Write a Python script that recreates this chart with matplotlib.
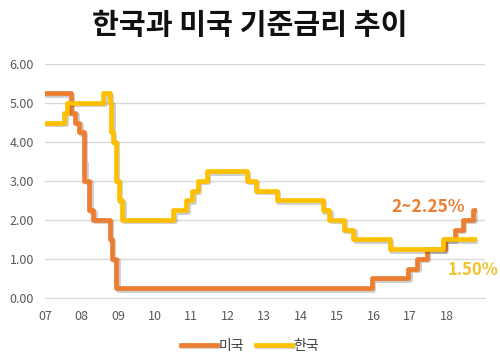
"""
plot.py

Korea vs US policy rate, 2007-2018.
"""

import pandas as pd
import matplotlib.pyplot as plt
import matplotlib.dates as mdates
import matplotlib.patheffects as pe

# US federal funds target (upper bound), change dates
us_dates = [
    "2007-01-01", "2007-09-18", "2007-10-31", "2007-12-11", "2008-01-22",
    "2008-01-30", "2008-03-18", "2008-04-30", "2008-10-08", "2008-10-29",
    "2008-12-16", "2015-12-16", "2016-12-14", "2017-03-15", "2017-06-14",
    "2017-12-13", "2018-03-21", "2018-06-13", "2018-09-26", "2018-10-01",
]
us_rates = [
    5.25, 4.75, 4.50, 4.25, 3.50,
    3.00, 2.25, 2.00, 1.50, 1.00,
    0.25, 0.50, 0.75, 1.00, 1.25,
    1.50, 1.75, 2.00, 2.25, 2.25,
]

# Bank of Korea base rate, change dates
kr_dates = [
    "2007-01-01", "2007-07-12", "2007-08-09", "2008-08-07", "2008-10-09",
    "2008-10-27", "2008-11-07", "2008-12-11", "2009-01-09", "2009-02-12",
    "2010-07-09", "2010-11-16", "2011-01-13", "2011-03-10", "2011-06-10",
    "2012-07-12", "2012-10-11", "2013-05-09", "2014-08-14", "2014-10-15",
    "2015-03-12", "2015-06-11", "2016-06-09", "2017-11-30", "2018-10-01",
]
kr_rates = [
    4.50, 4.75, 5.00, 5.25, 5.00,
    4.25, 4.00, 3.00, 2.50, 2.00,
    2.25, 2.50, 2.75, 3.00, 3.25,
    3.00, 2.75, 2.50, 2.25, 2.00,
    1.75, 1.50, 1.25, 1.50, 1.50,
]

TITLE = "한국과 미국 기준금리 추이"
US_COLOR = "#ED7D31"
KR_COLOR = "#FFC000"
KR_FONT = ["Noto Sans CJK KR", "DejaVu Sans"]

plt.rcParams["font.family"] = KR_FONT


def main():
    fig = plt.figure(figsize=(5, 3.62), dpi=100)
    ax = fig.add_axes([0.09, 0.177, 0.88, 0.646])

    shadow = [pe.SimpleLineShadow(offset=(1, -1), alpha=0.2), pe.Normal()]

    ax.plot(pd.to_datetime(us_dates), us_rates, drawstyle="steps-post",
            color=US_COLOR, lw=3.4, label="미국", path_effects=shadow,
            solid_joinstyle="round")
    ax.plot(pd.to_datetime(kr_dates), kr_rates, drawstyle="steps-post",
            color=KR_COLOR, lw=3.4, label="한국", path_effects=shadow,
            solid_joinstyle="round")

    ax.set_ylim(0, 6)
    ax.set_yticks([0, 1, 2, 3, 4, 5, 6])
    ax.yaxis.set_major_formatter(plt.FuncFormatter(lambda v, _: f"{v:.2f}"))
    ax.set_xlim(pd.Timestamp("2007-01-01"), pd.Timestamp("2019-01-20"))
    ax.xaxis.set_major_locator(mdates.YearLocator(base=1))
    ax.xaxis.set_major_formatter(mdates.DateFormatter("%y"))

    # drop the 2019 tick label
    ticks = [t for t in ax.get_xticks() if mdates.num2date(t).year <= 2018]
    ax.set_xticks(ticks)

    ax.grid(axis="y", color="#D9D9D9", lw=1)
    ax.set_axisbelow(True)
    for side in ["top", "right", "left"]:
        ax.spines[side].set_visible(False)
    ax.spines["bottom"].set_color("#D9D9D9")
    ax.tick_params(length=0, labelsize=9, colors="#595959", pad=8)
    ax.tick_params(axis="x", pad=9)

    ax.text(pd.Timestamp("2017-07-01"), 2.33, "2~2.25%", color=US_COLOR,
            fontsize=12.5, fontweight="bold", ha="center", va="center")
    ax.text(pd.Timestamp("2018-09-20"), 0.72, "1.50%", color="#F2C12E",
            fontsize=12, fontweight="bold", ha="center", va="center")

    fig.text(0.5, 0.93, TITLE, ha="center", va="center",
             fontsize=21, fontweight="bold", color="#111111")

    fig.legend(loc="center", bbox_to_anchor=(0.5, 0.045), ncol=2,
               frameon=False, fontsize=10, handlelength=2.6,
               handletextpad=0.15, columnspacing=0.8, labelcolor="#404040")

    fig.savefig("out.png", dpi=100)
    plt.close(fig)


if __name__ == "__main__":
    main()
